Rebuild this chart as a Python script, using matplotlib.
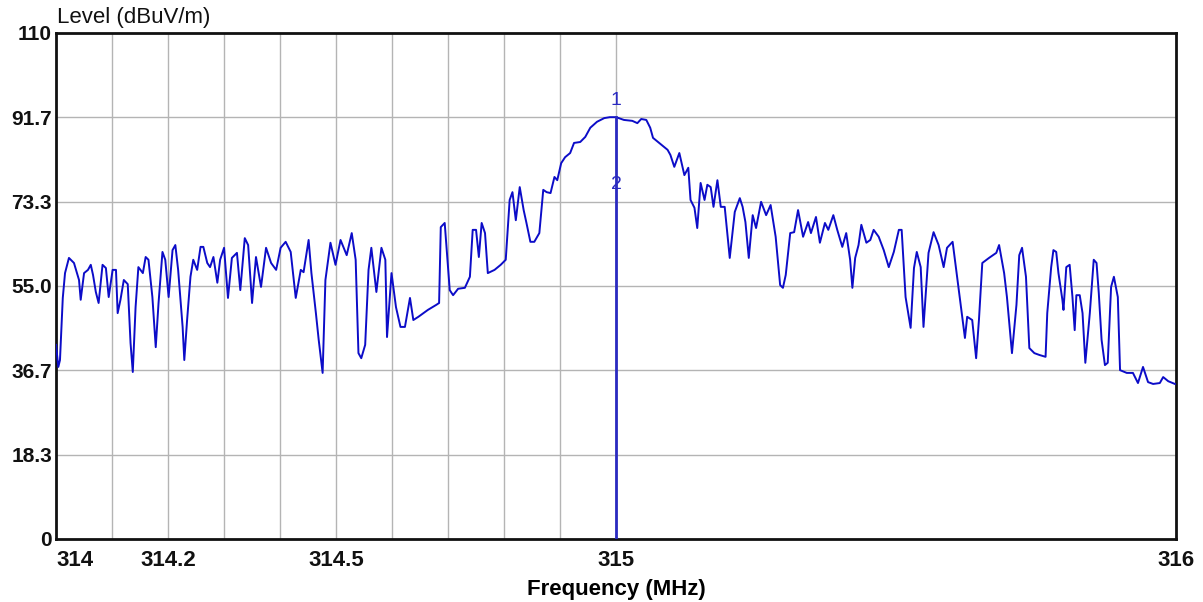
import matplotlib
matplotlib.use("Agg")
import matplotlib.pyplot as plt

# trace (MHz, dBuV/m)
freq_mhz = [
    314.000, 314.004, 314.007, 314.012, 314.016, 314.023, 314.032, 314.041, 314.044, 314.050,
    314.057, 314.062, 314.066, 314.071, 314.076, 314.083, 314.089, 314.094, 314.101, 314.107,
    314.110, 314.115, 314.121, 314.128, 314.133, 314.137, 314.142, 314.147, 314.155, 314.160,
    314.165, 314.172, 314.178, 314.183, 314.190, 314.195, 314.201, 314.208, 314.213, 314.218,
    314.226, 314.229, 314.234, 314.240, 314.245, 314.252, 314.258, 314.263, 314.270, 314.275,
    314.281, 314.288, 314.293, 314.300, 314.307, 314.314, 314.323, 314.329, 314.337, 314.343,
    314.350, 314.357, 314.366, 314.375, 314.384, 314.393, 314.401, 314.410, 314.419, 314.428,
    314.437, 314.442, 314.451, 314.456, 314.464, 314.469, 314.476, 314.481, 314.490, 314.499,
    314.508, 314.519, 314.528, 314.535, 314.540, 314.545, 314.552, 314.558, 314.563, 314.572,
    314.581, 314.588, 314.591, 314.599, 314.607, 314.615, 314.623, 314.632, 314.638, 314.647,
    314.664, 314.679, 314.684, 314.687, 314.694, 314.703, 314.709, 314.718, 314.730, 314.739,
    314.744, 314.750, 314.755, 314.760, 314.766, 314.771, 314.783, 314.794, 314.803, 314.810,
    314.815, 314.821, 314.828, 314.835, 314.840, 314.847, 314.854, 314.863, 314.870, 314.876,
    314.883, 314.890, 314.895, 314.902, 314.909, 314.918, 314.925, 314.936, 314.945, 314.954,
    314.966, 314.979, 314.989, 315.000, 315.014, 315.029, 315.038, 315.045, 315.054, 315.061,
    315.066, 315.077, 315.092, 315.097, 315.104, 315.113, 315.122, 315.129, 315.133, 315.140,
    315.145, 315.151, 315.158, 315.163, 315.169, 315.174, 315.181, 315.187, 315.194, 315.203,
    315.208, 315.212, 315.221, 315.226, 315.231, 315.237, 315.244, 315.250, 315.259, 315.268,
    315.276, 315.285, 315.293, 315.298, 315.303, 315.311, 315.318, 315.325, 315.334, 315.343,
    315.348, 315.357, 315.364, 315.373, 315.379, 315.388, 315.395, 315.404, 315.411, 315.418,
    315.422, 315.427, 315.433, 315.438, 315.447, 315.454, 315.460, 315.469, 315.478, 315.487,
    315.496, 315.505, 315.510, 315.517, 315.526, 315.532, 315.537, 315.544, 315.549, 315.558,
    315.567, 315.576, 315.585, 315.591, 315.601, 315.609, 315.618, 315.623, 315.627, 315.636,
    315.643, 315.648, 315.654, 315.666, 315.679, 315.684, 315.693, 315.698, 315.707, 315.715,
    315.720, 315.725, 315.732, 315.738, 315.747, 315.756, 315.767, 315.770, 315.777, 315.781,
    315.786, 315.790, 315.797, 315.799, 315.804, 315.810, 315.815, 315.819, 315.822, 315.828,
    315.833, 315.838, 315.846, 315.853, 315.858, 315.862, 315.867, 315.873, 315.878, 315.884,
    315.889, 315.896, 315.900, 315.912, 315.923, 315.932, 315.941, 315.950, 315.959, 315.971,
    315.977, 315.986, 315.998,
]
level_db = [
    42.2, 37.4, 38.9, 52.4, 57.8, 61.1, 60.0, 56.3, 52.0, 57.8,
    58.5, 59.6, 57.4, 53.7, 51.3, 59.6, 58.9, 52.6, 58.5, 58.5,
    49.1, 52.0, 56.3, 55.4, 42.6, 36.3, 50.4, 59.1, 57.8, 61.3,
    60.7, 52.6, 41.7, 51.3, 62.4, 60.7, 52.6, 62.8, 63.9, 58.5,
    46.1, 38.9, 47.6, 57.0, 60.7, 58.5, 63.5, 63.5, 60.0, 59.1,
    61.3, 55.7, 60.7, 63.3, 52.4, 61.1, 62.2, 54.1, 65.4, 63.9,
    51.3, 61.3, 54.8, 63.3, 60.0, 58.5, 63.3, 64.6, 62.4, 52.4,
    58.5, 58.0, 65.0, 57.8, 49.1, 43.3, 36.1, 56.3, 64.4, 59.6,
    65.0, 61.7, 66.5, 60.7, 40.4, 39.3, 42.2, 58.5, 63.3, 53.7,
    63.3, 60.7, 43.9, 57.8, 50.4, 46.1, 46.1, 52.4, 47.6, 48.3,
    49.8, 50.9, 51.3, 67.8, 68.7, 54.1, 53.0, 54.4, 54.6, 57.0,
    67.2, 67.2, 61.3, 68.7, 66.5, 57.8, 58.5, 59.6, 60.7, 73.7,
    75.4, 69.3, 76.5, 71.5, 68.7, 64.6, 64.6, 66.5, 75.9, 75.4,
    75.2, 78.7, 78.0, 81.7, 83.0, 83.9, 86.1, 86.3, 87.4, 89.4,
    90.7, 91.5, 91.7, 91.7, 91.1, 90.9, 90.4, 91.3, 91.1, 89.4,
    87.2, 86.1, 84.6, 83.5, 80.9, 83.9, 79.1, 80.7, 73.7, 72.0,
    67.6, 77.4, 73.7, 77.0, 76.5, 72.2, 78.0, 72.2, 72.2, 61.1,
    66.7, 71.1, 74.1, 72.2, 68.9, 61.1, 70.4, 67.6, 73.3, 70.4,
    72.6, 65.7, 55.2, 54.6, 57.4, 66.5, 66.7, 71.5, 65.7, 68.9,
    66.5, 70.0, 64.4, 68.7, 67.2, 70.4, 67.2, 63.5, 66.5, 60.7,
    54.6, 61.1, 63.9, 68.3, 64.4, 65.0, 67.2, 65.7, 62.8, 59.1,
    62.4, 67.2, 67.2, 52.6, 45.9, 58.9, 62.4, 59.1, 46.1, 62.2,
    66.7, 63.9, 59.1, 63.3, 64.6, 57.0, 48.3, 43.7, 48.3, 47.6,
    39.3, 47.6, 60.0, 61.1, 62.2, 63.9, 57.8, 52.6, 40.4, 50.9,
    61.7, 63.3, 57.0, 41.5, 40.4, 40.0, 39.6, 49.1, 59.1, 62.8,
    62.4, 57.8, 52.0, 49.8, 59.1, 59.6, 52.6, 45.4, 53.0, 53.0,
    49.1, 38.3, 49.1, 60.7, 60.0, 53.5, 43.3, 37.8, 38.3, 54.8,
    57.0, 52.6, 36.7, 36.1, 36.1, 33.9, 37.4, 34.1, 33.7, 33.9,
    35.2, 34.3, 33.7,
]

marker_freq = 315.0
marker_level = 91.7

y_ticks = [0, 18.3, 36.7, 55.0, 73.3, 91.7, 110]
y_labels = ["0", "18.3", "36.7", "55.0", "73.3", "91.7", "110"]
x_ticks = [314, 314.2, 314.5, 315, 316]
x_labels = ["314", "314.2", "314.5", "315", "316"]
x_grid = [314.1, 314.2, 314.3, 314.4, 314.5, 314.6, 314.7, 314.8, 314.9, 315.0]

TRACE = "#0c0cc8"
MARK = "#2a2ac0"
sans = ["Liberation Sans", "DejaVu Sans"]

fig = plt.figure(figsize=(12.03, 6.02), dpi=100)
ax = fig.add_axes([0.0466, 0.1047, 0.931, 0.8405])

ax.set_xlim(314, 316)
ax.set_ylim(0, 110)

# grid: horizontal at every level tick, vertical only on the left half
for y in y_ticks[1:-1]:
    ax.axhline(y, color="#b4b4b4", lw=1.0, zorder=1)
for x in x_grid:
    ax.axvline(x, color="#b4b4b4", lw=1.0, zorder=1)

ax.plot(freq_mhz, level_db, color=TRACE, lw=1.4, zorder=3)

# marker line with its two labels
ax.plot([marker_freq, marker_freq], [0, marker_level], color=MARK, lw=2.0, zorder=4)
ax.text(marker_freq, 95.3, "1", color=MARK, fontsize=14, ha="center", va="center", family=sans)
ax.text(marker_freq, 77.0, "2", color=MARK, fontsize=14, ha="center", va="center", family=sans)

for s in ax.spines.values():
    s.set_linewidth(2.0)
    s.set_color("#111111")

ax.set_yticks(y_ticks)
ax.set_yticklabels(y_labels, fontsize=15, fontweight="bold", family=sans)
ax.set_xticks(x_ticks)
ax.set_xticklabels(x_labels, fontsize=16, fontweight="bold", family=sans)
ax.tick_params(axis="both", length=0, colors="#111111")
ax.tick_params(axis="y", pad=3)
ax.tick_params(axis="x", pad=8)
ax.get_xticklabels()[0].set_horizontalalignment("left")

ax.set_xlabel("Frequency (MHz)", fontsize=16, fontweight="bold", family=sans, labelpad=6)
fig.text(57 / 1203, 1 - 17 / 602, "Level (dBuV/m)", fontsize=16, family=sans,
         ha="left", va="center", color="#111111")

fig.savefig("out.png", dpi=100)
